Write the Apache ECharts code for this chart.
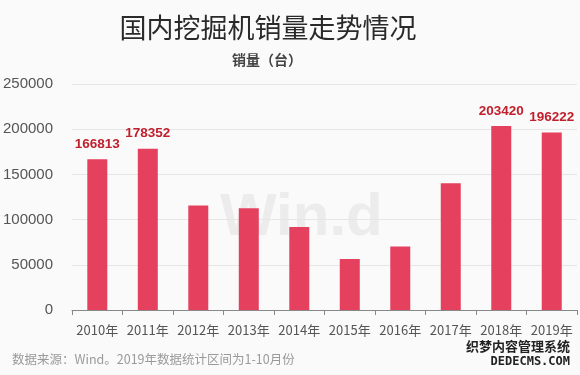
<!DOCTYPE html>
<html><head><meta charset="utf-8">
<script src="https://cdn.jsdelivr.net/npm/echarts@6/dist/echarts.min.js"></script>
<style>html,body{margin:0;padding:0;background:#fafafb;}#c{width:580px;height:375px;}</style>
</head><body><div id="c"></div>
<script>
const categories = ['2010年','2011年','2012年','2013年','2014年','2015年','2016年','2017年','2018年','2019年'];
const sales = [166813, 178352, 115577, 112670, 91700, 56350, 70320, 140303, 203420, 196222];
const labeledYears = ['2010年','2011年','2018年','2019年'];
const yTicks = [0, 50000, 100000, 150000, 200000, 250000];

const chart = echarts.init(document.getElementById('c'));
chart.setOption({
  backgroundColor: '#fafafb',
  animation: false,
  title: [
    { text: '国内挖掘机销量走势情况', left: 263, textAlign: 'center', top: 9,
      textStyle: { fontSize: 27, fontWeight: 'normal', color: '#2a2a2a', fontFamily: 'Noto Sans CJK SC' } },
    { text: '销量（台）', left: 262, textAlign: 'center', top: 48,
      textStyle: { fontSize: 14, fontWeight: 'bold', color: '#444', fontFamily: 'Noto Sans CJK SC' } }
  ],
  graphic: [
    { type: 'text', left: 12, top: 353, style: { text: '数据来源：Wind。2019年数据统计区间为1-10月份', fill: '#9a9a9a', font: '12.5px "Noto Sans CJK SC"' } },
    { type: 'text', left: 220, top: 188, z: -1, style: { text: 'Win.d', fill: 'rgba(200,200,200,0.28)', font: 'bold 60px "Liberation Sans"' } },
    { type: 'text', right: 10, top: 340, style: { text: '织梦内容管理系统', fill: '#222', font: 'bold 13px "Noto Sans CJK SC"' } },
    { type: 'text', right: 10, top: 356, style: { text: 'DEDECMS.COM', fill: '#222', font: 'bold 12px "DejaVu Sans Mono"' } }
  ],
  grid: { left: 72, right: 3, top: 84, bottom: 65 },
  xAxis: {
    type: 'category', data: categories,
    axisLine: { lineStyle: { color: '#888' } },
    axisTick: { show: true, lineStyle: { color: '#888' }, length: 5 },
    axisLabel: { color: '#555', fontSize: 13, margin: 14, interval: 0, fontFamily: 'Noto Sans CJK SC' }
  },
  yAxis: {
    type: 'value', min: yTicks[0], max: yTicks[yTicks.length - 1], interval: 50000,
    axisLine: { show: false }, axisTick: { show: false },
    axisLabel: { color: '#555', fontSize: 15, margin: 19, fontFamily: 'Liberation Sans', formatter: v => String(v) },
    splitLine: { lineStyle: { color: '#e6e6e6' } }
  },
  series: [{
    type: 'bar', barWidth: 20,
    data: sales.map((v, i) => ({
      value: v,
      label: { show: labeledYears.includes(categories[i]) }
    })),
    itemStyle: { color: '#e5405e' },
    label: { position: 'top', distance: 8, color: '#c0202c', fontSize: 13.5, fontWeight: 'bold', fontFamily: 'Liberation Sans' }
  }]
});
</script></body></html>
